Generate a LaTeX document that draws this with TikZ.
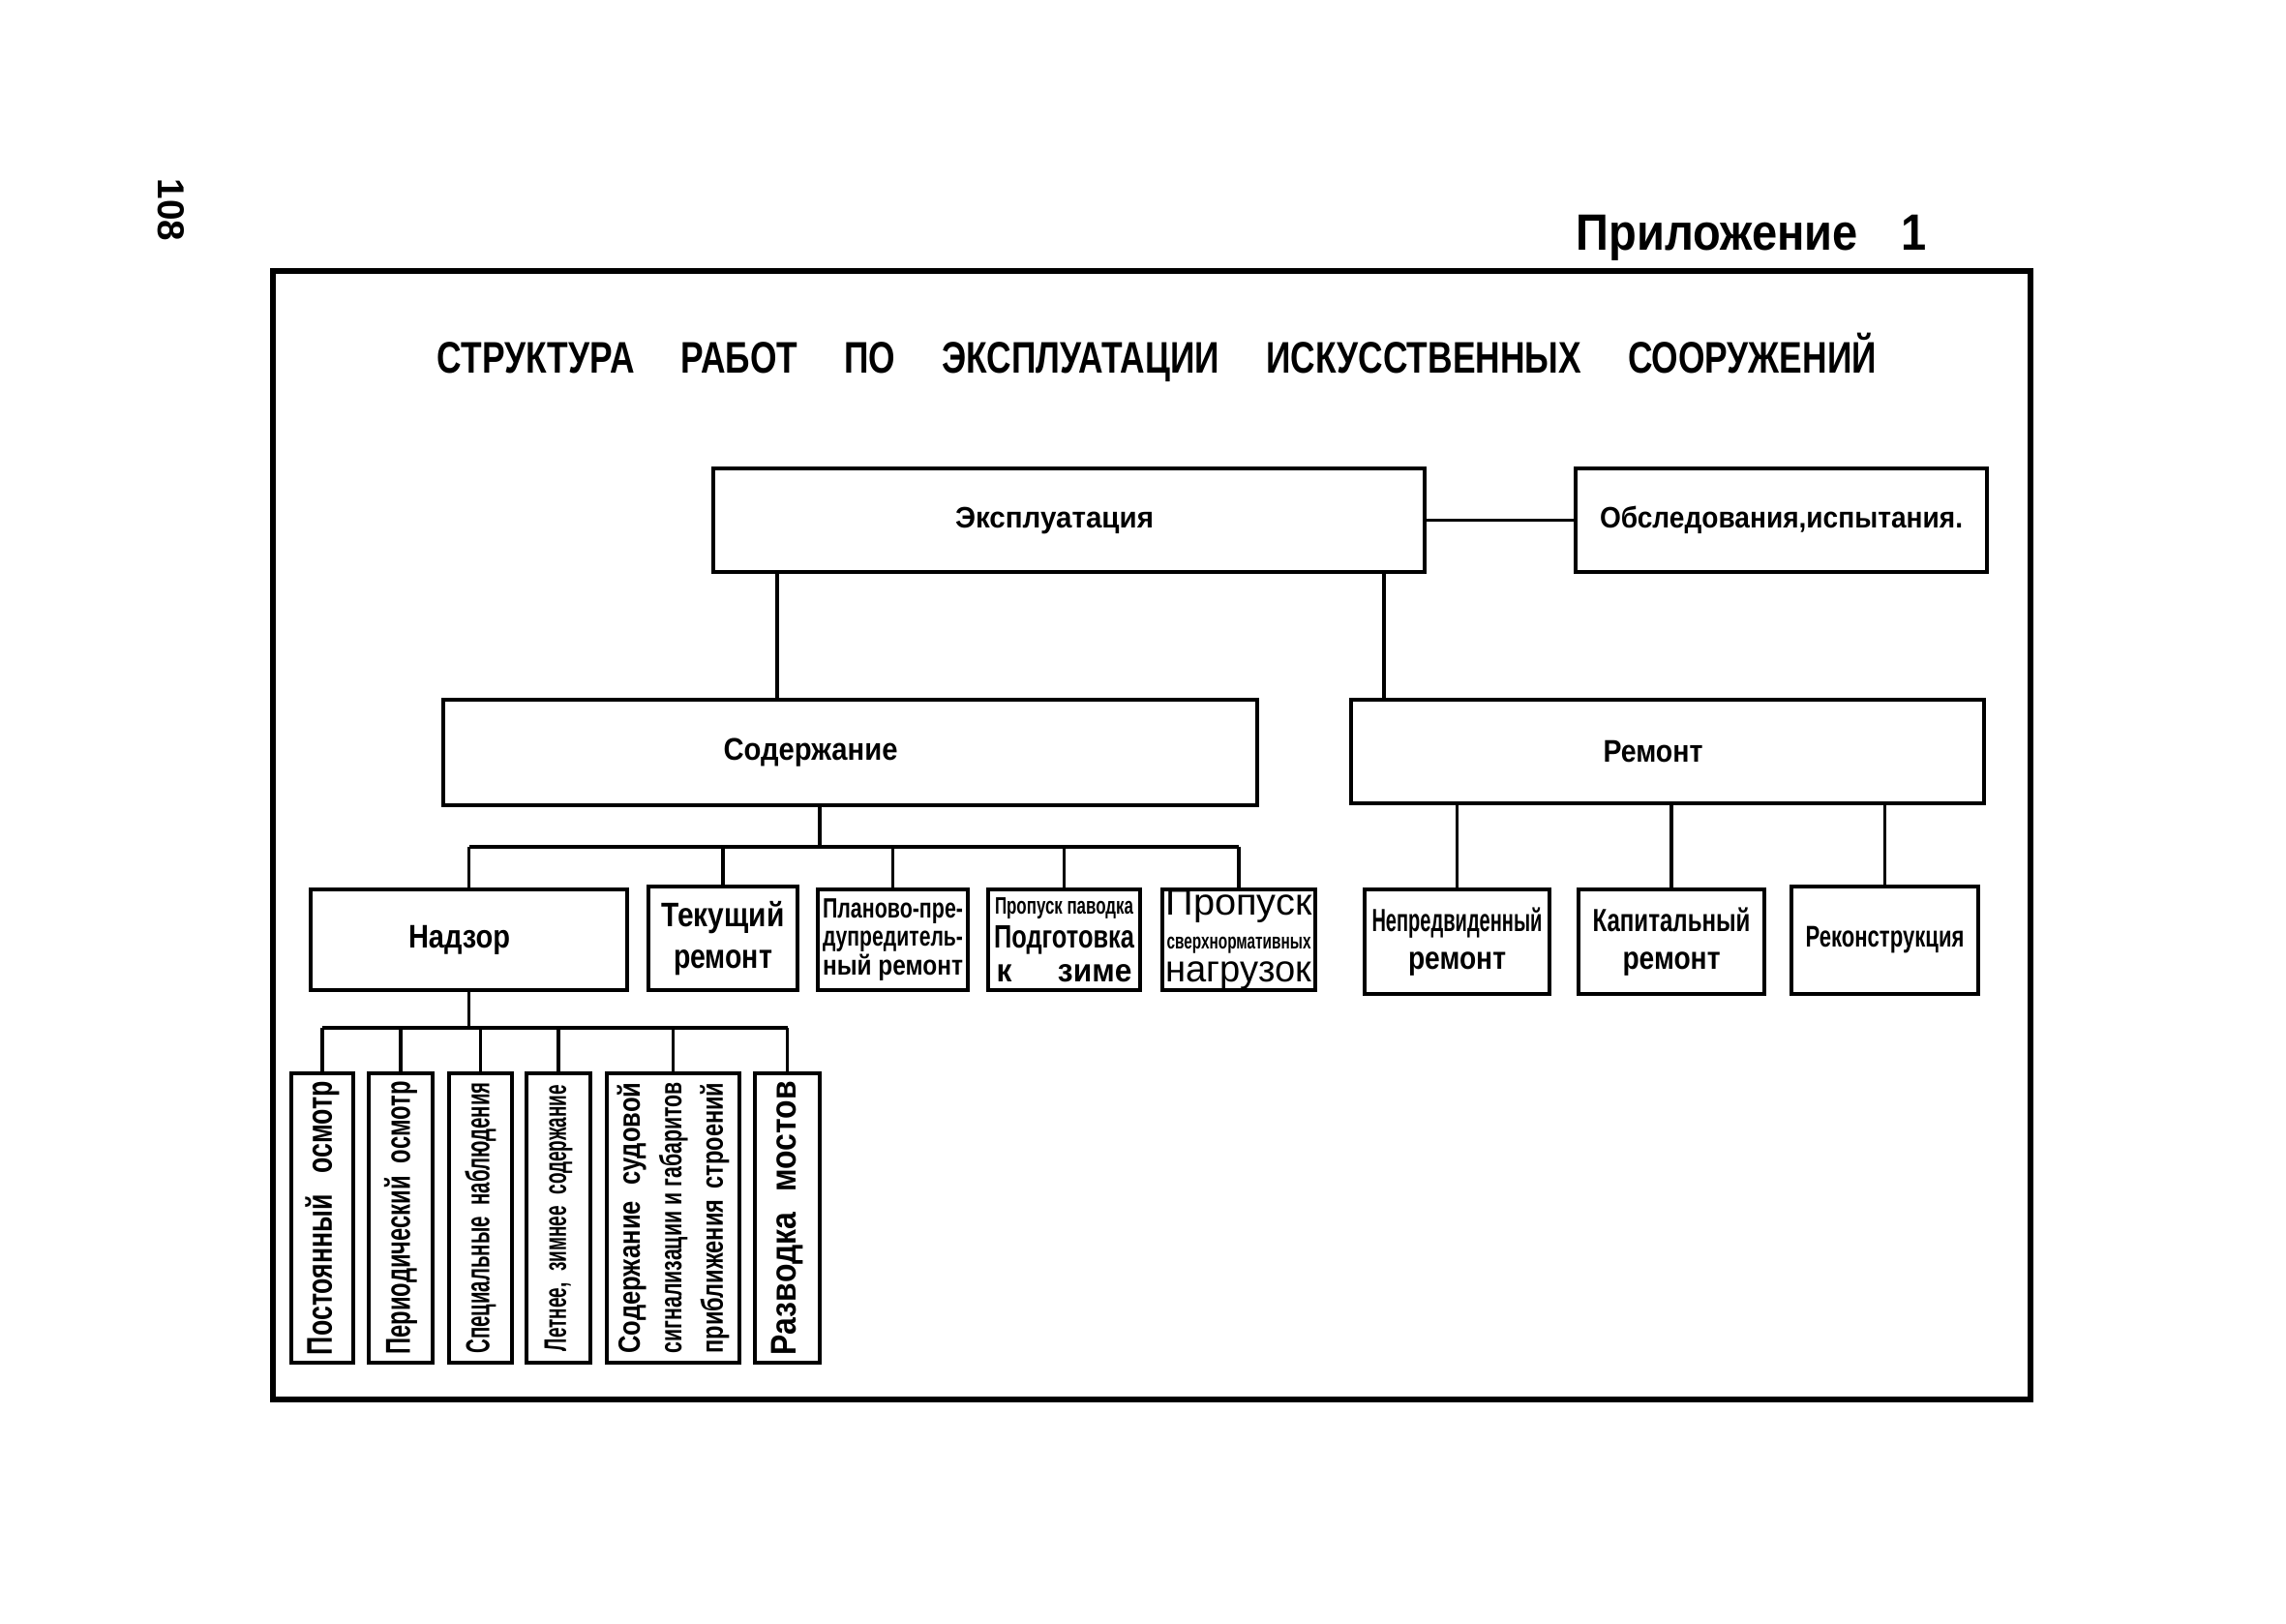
\documentclass[tikz,border=0pt]{standalone}
\usepackage{fontspec}
\setmainfont{Liberation Sans}
\usepackage{graphicx}
\usetikzlibrary{positioning}

% squeeze a text to a given width, keep its height
\newcommand{\squeeze}[2]{\resizebox{#1}{\height}{#2}}

\begin{document}
\begin{tikzpicture}
\tikzstyle{block} = [rectangle, draw=black, line width=1.1pt, inner sep=0pt, font=\bfseries]
\tikzstyle{link} = [line width=0.9pt]

\useasboundingbox (0,0) rectangle (23.62,-16.77);

% sheet
\node (page) [rotate=-90, font=\bfseries\fontsize{11}{13}\selectfont] at (1.765,-2.17) {108};
\node (app) [anchor=base east, font=\bfseries\fontsize{15}{18}\selectfont] at (20.03,-2.58) {\squeeze{3.62cm}{Приложение\hspace{0.5cm}1}};
\draw [line width=1.6pt] (2.82,-2.80) rectangle (20.98,-14.46);
\node (title) [anchor=base, font=\bfseries\fontsize{13}{16}\selectfont] at (11.955,-3.85) {\squeeze{14.87cm}{СТРУКТУРА\hspace{0.62cm}РАБОТ\hspace{0.62cm}ПО\hspace{0.62cm}ЭКСПЛУАТАЦИИ\hspace{0.62cm}ИСКУССТВЕННЫХ\hspace{0.62cm}СООРУЖЕНИЙ}};

% top levels
\node (expl) [block, minimum width=7.35cm, minimum height=1.07cm, font=\bfseries\fontsize{8.7}{10}\selectfont] at (11.045,-5.375) {\hspace*{-0.3cm}\squeeze{2.05cm}{Эксплуатация}};
\node (obsl) [block, minimum width=4.25cm, minimum height=1.07cm, font=\bfseries\fontsize{8.7}{10}\selectfont] at (18.405,-5.375) {\squeeze{3.75cm}{Обследования,испытания.}};
\node (sod) [block, minimum width=8.41cm, minimum height=1.09cm, font=\bfseries\fontsize{9.2}{11}\selectfont] at (8.785,-7.775) {\hspace*{-0.82cm}\squeeze{1.80cm}{Содержание}};
\node (rem) [block, minimum width=6.54cm, minimum height=1.07cm, font=\bfseries\fontsize{9.2}{11}\selectfont] at (17.23,-7.765) {\hspace*{-0.3cm}\squeeze{1.03cm}{Ремонт}};

% second level
\node (nadzor) [block, minimum width=3.27cm, minimum height=1.04cm, font=\bfseries\fontsize{9.6}{11}\selectfont] at (4.845,-9.71) {\hspace*{-0.2cm}\squeeze{1.05cm}{Надзор}};
\node (tek) [block, minimum width=1.54cm, minimum height=1.07cm, align=center, font=\bfseries\fontsize{10}{12.2}\selectfont] at (7.47,-9.695) {\squeeze{1.27cm}{Текущий}\\\squeeze{1.02cm}{ремонт}};
\node (plan) [block, minimum width=1.55cm, minimum height=1.04cm, align=center, font=\bfseries\fontsize{8.2}{8.3}\selectfont] at (9.225,-9.71) {\squeeze{1.45cm}{Планово-пре-}\\\squeeze{1.45cm}{дупредитель-}\\\squeeze{1.45cm}{ный ремонт}};
\node (pavod) [block, minimum width=1.57cm, minimum height=1.04cm, align=center, font=\bfseries\fontsize{9.5}{9.9}\selectfont] at (10.995,-9.71) {\squeeze{1.43cm}{\fontsize{7}{8}\selectfont Пропуск паводка}\\\squeeze{1.45cm}{Подготовка}\\\squeeze{1.40cm}{к\hspace{0.5cm}зиме}};
\node (sverh) [block, minimum width=1.58cm, minimum height=1.04cm, align=center, font=\fontsize{11}{9.8}\selectfont] at (12.80,-9.71) {\squeeze{1.51cm}{Пропуск}\\\squeeze{1.49cm}{\bfseries\fontsize{6.5}{7}\selectfont сверхнормативных}\\\squeeze{1.51cm}{нагрузок}};
\node (nepr) [block, minimum width=1.91cm, minimum height=1.08cm, align=center, font=\bfseries\fontsize{9.4}{11}\selectfont] at (15.055,-9.73) {\squeeze{1.76cm}{Непредвиденный}\\\squeeze{1.01cm}{ремонт}};
\node (kap) [block, minimum width=1.92cm, minimum height=1.08cm, align=center, font=\bfseries\fontsize{9.4}{11}\selectfont] at (17.27,-9.73) {\squeeze{1.63cm}{Капитальный}\\\squeeze{1.01cm}{ремонт}};
\node (rek) [block, minimum width=1.93cm, minimum height=1.11cm, font=\bfseries\fontsize{8.8}{10}\selectfont] at (19.475,-9.715) {\squeeze{1.64cm}{Реконструкция}};

% supervision, vertical boxes
\node (post) [block, minimum width=0.64cm, minimum height=2.99cm, font=\bfseries\fontsize{10.5}{12}\selectfont] at (3.33,-12.585) {\rotatebox{90}{\squeeze{2.83cm}{Постоянный\hspace{0.3cm}осмотр}}};
\node (period) [block, minimum width=0.66cm, minimum height=2.99cm, font=\bfseries\fontsize{10.2}{12}\selectfont] at (4.14,-12.585) {\rotatebox{90}{\squeeze{2.82cm}{Периодический\hspace{0.2cm}осмотр}}};
\node (spec) [block, minimum width=0.65cm, minimum height=2.99cm, font=\bfseries\fontsize{9.8}{12}\selectfont] at (4.965,-12.585) {\rotatebox{90}{\squeeze{2.80cm}{Специальные\hspace{0.2cm}наблюдения}}};
\node (leto) [block, minimum width=0.66cm, minimum height=2.99cm, font=\bfseries\fontsize{9.2}{12}\selectfont] at (5.77,-12.585) {\rotatebox{90}{\squeeze{2.75cm}{Летнее,\hspace{0.2cm}зимнее\hspace{0.2cm}содержание}}};
\node (sudov) [block, minimum width=1.37cm, minimum height=2.99cm, font=\bfseries\fontsize{9}{12.2}\selectfont] at (6.955,-12.585) {\rotatebox{90}{\begin{tabular}{@{}c@{}}\squeeze{2.80cm}{Содержание\hspace{0.2cm}судовой}\\\squeeze{2.80cm}{сигнализации и габаритов}\\\squeeze{2.80cm}{приближения\hspace{0.15cm}строений}\end{tabular}}};
\node (razv) [block, minimum width=0.67cm, minimum height=2.99cm, font=\bfseries\fontsize{10.5}{12}\selectfont] at (8.135,-12.585) {\rotatebox{90}{\squeeze{2.83cm}{Разводка\hspace{0.25cm}мостов}}};

% connections
\draw [link] (expl.east) -- (obsl.west);
\draw [link] ([xshift=-3.015cm]expl.south) -- ([xshift=-3.015cm]expl.south |- sod.north);
\draw [link] ([xshift=3.255cm]expl.south) -- ([xshift=3.255cm]expl.south |- rem.north);

\coordinate (sodbus) at (8.47,-8.75);
\draw [link] (sodbus |- sod.south) -- (sodbus);
\draw [link] (nadzor.north |- sodbus) -- (sverh.north |- sodbus);
\foreach \n in {nadzor,tek,plan,pavod,sverh}
  \draw [link] (\n.north |- sodbus) -- (\n.north);

\foreach \n in {nepr,kap,rek}
  \draw [link] (\n.north |- rem.south) -- (\n.north);

\coordinate (nbus) at (4.81,-10.62);
\draw [link] (nadzor.south) -- (nadzor.south |- nbus);
\draw [link] (post.north |- nbus) -- (razv.north |- nbus);
\foreach \n in {post,period,spec,leto,sudov,razv}
  \draw [link] (\n.north |- nbus) -- (\n.north);
\end{tikzpicture}
\end{document}
